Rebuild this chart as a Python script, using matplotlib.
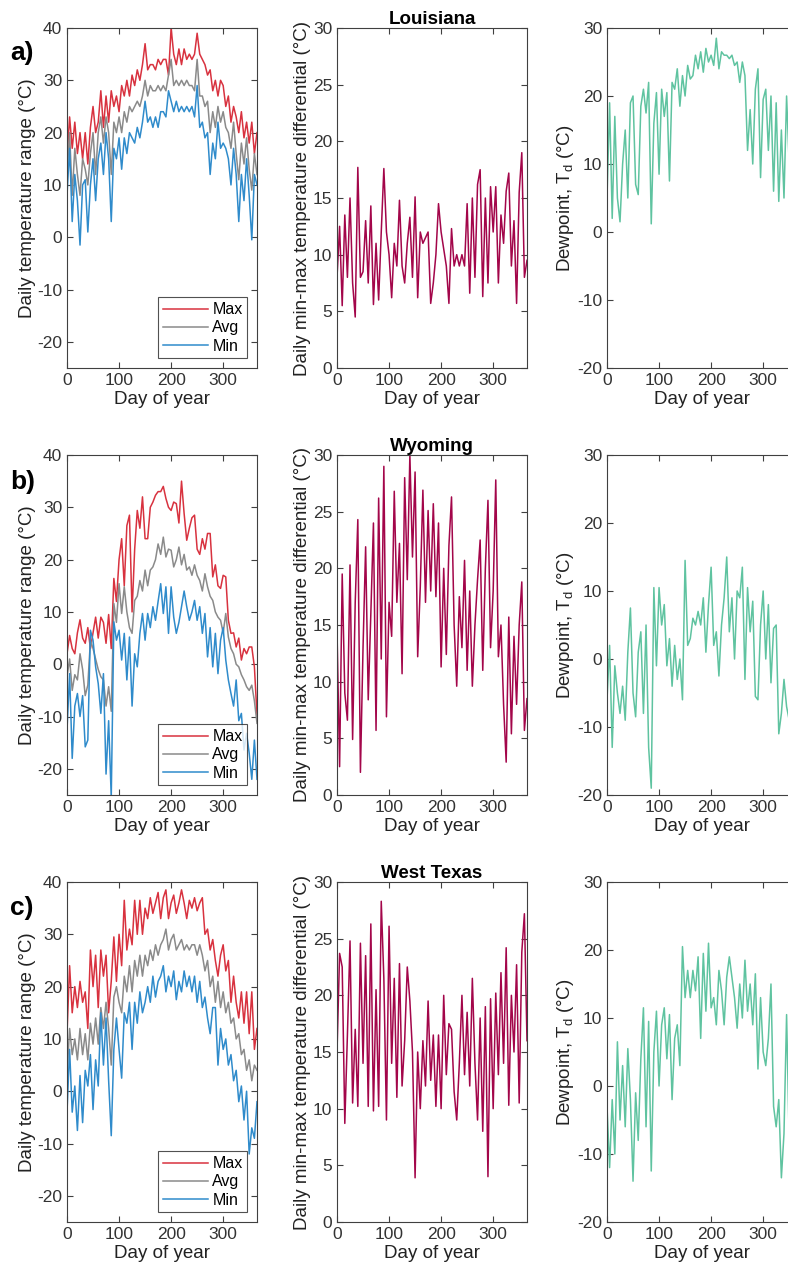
"""
    Daily temperature range, min-max differential and dewpoint for
    Louisiana, Wyoming and West Texas (values read every 5 days).
"""

import matplotlib
matplotlib.use("Agg")
import matplotlib.pyplot as plt

plt.rcParams['font.family'] = ['Liberation Sans', 'DejaVu Sans']
plt.rcParams['axes.unicode_minus'] = False
plt.rcParams['mathtext.default'] = 'regular'

DAYS = list(range(0, 366, 5))

# ---------------- Louisiana ----------------
LA_MAX = [15, 23, 17, 22, 16, 20, 15, 20, 14, 21,
          25, 20, 22, 28, 21, 27, 22, 28, 25, 27,
          24, 29, 27, 30, 27, 31, 29, 32, 30, 33,
          37, 32, 33, 33, 32, 34, 33, 34, 34, 31,
          40, 35, 33, 36, 33, 36, 34, 35, 34, 35,
          39, 35, 34, 33, 31, 32, 28, 30, 27, 30,
          29, 25, 27, 22, 25, 23, 20, 24, 19, 22,
          18, 22, 16, 20]
LA_AVG = [12, 20, 8, 17, 12, 8, 15, 13, 10, 16,
          20, 12, 20, 23, 18, 23, 20, 12, 22, 20,
          23, 20, 24, 22, 25, 24, 25, 26, 25, 27,
          30, 27, 29, 28, 28, 29, 28, 29, 28, 31,
          34, 29, 30, 29, 30, 29, 30, 29, 29, 28,
          34, 27, 27, 25, 26, 20, 24, 21, 25, 22,
          24, 21, 20, 17, 22, 16, 11, 18, 14, 19,
          13, 9, 16, 12]
LA_MIN = [8, 17, 3, 12, 7, -1.5, 10, 11, 1, 10,
          15, 7, 15, 18, 12, 20, 15, 3, 17, 15,
          19, 13, 19, 16, 20, 19, 18, 21, 19, 22,
          26, 22, 23, 21, 23, 21, 24, 24, 23, 28,
          26, 24, 26, 24, 25, 24, 25, 24, 25, 23,
          29, 21, 22, 19, 20, 12, 18, 15, 22, 17,
          18, 17, 15, 10, 17, 12, 3, 12, 7, 15,
          8, -0.5, 12, 10]
LA_DIFF = [8, 12.5, 5.5, 13.5, 8, 15, 7.5, 4.5, 17.7, 8,
           8.5, 13, 7.5, 14.3, 5.6, 11, 6, 12, 17.6, 12,
           10, 6.2, 11, 9, 14.8, 9, 7.5, 11, 13.3, 8,
           15.1, 6.2, 12, 11, 11.5, 12, 5.7, 7.5, 10, 14.5,
           12, 10.5, 9, 5.7, 12.3, 9, 10, 9, 10, 9,
           14.5, 6.6, 15, 8, 16.2, 17.5, 6.3, 15, 7.5, 16,
           12, 16, 7.5, 13.5, 11, 15.6, 17.2, 9, 13, 5.7,
           15.5, 19, 8, 9.5]
LA_DEW = [5, 19, 2, 17, 5, 1.5, 10, 15, 5, 19,
          20, 7, 5.5, 18.5, 21, 17.5, 22, 1.2, 16, 20.5,
          8.5, 21, 17, 20.5, 7.5, 22, 21, 24, 18.5, 23,
          20, 24.5, 22.5, 23, 26, 24, 26.5, 23.5, 27, 25,
          26, 24.5, 28.5, 24, 26.5, 26, 26, 25.5, 26, 24.5,
          25, 22, 25, 23, 12, 18, 10, 21, 24, 8,
          19.5, 21, 12, 20, 6, 19, 4.5, 15, 5, 20,
          10, 14, 8, 12]

# ---------------- Wyoming ----------------
WY_MAX = [2, 5.5, 3, 2, 6, 8.5, 5, 4, 7, 3,
          6, 9, 5, 9, 8, 4, 9.5, 3, 16.4, 12,
          20, 24, 15, 26.5, 28.5, 10, 22, 29.4, 26, 32,
          24, 24, 30, 31, 32.3, 33, 33, 34, 31.7, 30,
          29.4, 31, 30.7, 27, 35, 28.8, 23.7, 26, 28, 28.5,
          22, 21, 24, 22, 25, 25, 16.7, 19, 15, 14.5,
          17, 16.7, 8.4, 5.9, 6, 3.3, 5, 0.8, 3, 2,
          3.3, 3.3, -0.5, -9.7]
WY_AVG = [-2.4, 1, -5, -2, -3, 2, -1, -6, -4, 4.6,
          3, 1, -1, -2.4, -3, -8, -4.3, -9, 11.6, 8,
          15.4, 9.7, 14.8, 10, 7, 5.9, 12.2, 13, 16, 14,
          18, 15, 18, 18.6, 20, 23, 21, 24.3, 20.5, 22,
          21.8, 18.6, 20, 22.4, 19, 21, 18, 18.6, 17, 19,
          17, 16, 14, 17.3, 14.8, 13, 12.2, 10, 9, 8.4,
          6, 9.7, 5.2, 3, 2, 0, -0.5, -2, -3, -4.3,
          -5, -4, -7, -11.3]
WY_MIN = [-12.6, -1.8, -18, -8, -5.6, -10, -6, -15.8, -14.5, 6.5,
          4.6, -0.5, -3.7, -9.4, -1.8, -21, -10.8, -25.5, 8.1, 4.6,
          6.5, 0.8, 5.9, -3, 5.2, -8, 2, -0.5, 5.9, 9.7,
          4.6, 9.7, 7, 11, 8.4, 12, 15.4, 9.7, 14.8, 5.9,
          14.8, 9, 5.9, 8, 11, 14, 11, 8.4, 10, 12.2,
          8.4, 11, 5.9, 9.7, 1.4, 7, -0.5, 5.9, -1.8, 4.6,
          7, 0.8, -3, -5.6, -8, -3, -10.8, -9.4, -16.4, -13.2,
          -17, -22, -14.5, -22]
WY_DIFF = [14.5, 2.5, 19.5, 9, 6.6, 20.3, 4.9, 17, 24.3, 2,
           13, 21.9, 8.4, 16, 24, 5.7, 26.2, 12, 29, 6.9,
           17, 14, 26.8, 17, 22.2, 10.7, 28, 19, 30, 21,
           28.5, 12.2, 18.4, 26.9, 17, 25.1, 18, 25.7, 17.5, 24,
           11.3, 20, 12.4, 22, 26.3, 15, 9.6, 17.5, 13, 20.7,
           11, 18, 9.6, 15, 19, 22.5, 11, 20, 26, 13,
           18, 27.8, 12.2, 15, 8, 2.9, 15.7, 5.4, 14, 8,
           15, 18.8, 5.7, 8.5]
WY_DEW = [-6, 2, -13, -1, -5, -8, -4, -9, 1, 7.5,
          -5, -8.5, 1, 4, -8, 5, -13, -19, 10.5, -1,
          10.5, 5, 8, -1, 3, -4, 2, -3, 0, -6,
          14.5, 2, 3, 6, 5, 7, 5, 9, 1, 8,
          13.5, 2, 4, -2.5, 5, 9, 15, 4, 9, 0,
          10, 9, 13.5, -3, 10.5, 4, 8.5, -5.5, -6, 5,
          10, 0, 8, -3.5, 4.5, 5, -11, -8, -3, -7,
          -9, -6, -10, -8]

# ---------------- West Texas ----------------
TX_MAX = [11, 24, 15, 20, 16, 21, 17, 19, 12, 27,
          20, 26, 16, 27, 22, 26, 15, 21, 29.5, 21,
          30, 24, 36.5, 27, 31, 28, 36.5, 30, 36.5, 30,
          35, 33, 37, 34, 36, 38, 33, 37, 38.5, 33,
          36, 37.5, 34, 36, 38.5, 36, 33, 36.5, 35, 37,
          34.5, 36, 37, 30, 31, 27, 29, 25, 22, 26,
          28, 23, 25, 17, 22, 17, 14, 19, 13, 19,
          11, 19, 8, 12]
TX_AVG = [3, 12, 7, 10, 6, 12, 7, 11, 6, 13,
          9, 14, 9, 16, 12, 17, 12, 5, 18, 20,
          17, 15, 22, 19, 24, 19, 25, 22, 26, 22,
          26, 24, 27, 25, 28, 26, 28, 29, 31, 27,
          29, 30, 27, 28, 29, 27, 28, 27, 28, 28,
          26, 28, 26, 23, 25, 20, 22, 17, 21, 16,
          19, 15, 17, 13, 14, 10, 11, 7, 8, 4,
          6, 2, 5, 4]
TX_MIN = [-4, 8, -4, 1, -7.5, 3, -6, 4, 1, 7,
          -3.5, 6, 1, 15, 5, 14, 2, -8.5, 8, 14,
          8, 2.5, 15, 13, 17, 8, 17, 13, 19, 15,
          17, 20, 17, 22, 18, 21, 22, 24, 19, 22,
          20, 23, 17.5, 21, 19, 23, 20, 22, 19, 22,
          17, 21, 16, 18, 14, 11, 16, 16, 5, 12,
          8, 10, 5, 7, 2, 4, -2, 1, -5.5, 0,
          -12, -7, -9, -2]
TX_DIFF = [15, 23.7, 22.5, 8.7, 16.5, 24.8, 10.5, 17, 10.2, 24.6,
           14, 23.5, 10.2, 26.3, 9.8, 20.5, 10.2, 28.3, 21.5, 9,
           26.1, 14, 21.5, 11, 22.8, 12, 16, 22.5, 19.5, 15,
           3.9, 15, 10, 16, 12, 19.5, 12.5, 16.5, 10.2, 16.5,
           10, 20, 13, 17.5, 17, 11.5, 9, 14, 20, 13,
           18.5, 12, 21.5, 14, 9, 18, 8, 19, 4, 19.7,
           10, 20.2, 13, 22, 14, 24.2, 10.3, 20, 15, 22.7,
           10.5, 23.8, 27.2, 16]
TX_DEW = [-3, -12, -2, -10, 6.5, -5, 3, -6, 5.5, -2,
          -14, -1, -8, 4, 11.5, -6, 9.5, -12.5, 5, 11,
          0, 9, 11.5, 4, 10.5, -2, 7, 9, 3, 20.5,
          13, 17, 13, 17, 14, 19, 7, 19.5, 11, 21,
          11.5, 13, 9, 17, 14, 9, 16, 19, 16, 13,
          8.5, 15, 10, 18.5, 11, 15, 9, 16.5, 2.5, 13,
          5, 3, 7, 15, -3, -6, -2, -13.5, -7, 10.5,
          -8, -5, -10, -6]

STATES = ["Louisiana", "Wyoming", "West Texas"]
PANEL_LABELS = ["a)", "b)", "c)"]

MAX_COLOR = "#d8323f"
AVG_COLOR = "#8a8a8a"
MIN_COLOR = "#2f8bcb"
DIFF_COLOR = "#a3064a"
DEW_COLOR = "#5fc3a0"
AXIS_COLOR = "#404040"
LABEL_SIZE = 13.5


def style_axes(ax, ylim, yticks):
    """
    Gives an axes the boxed, inward-tick look.

    Parameters
    ----------
    ax : the axes
    ylim : tuple of y limits
    yticks : list of y tick positions

    Returns
    -------
    None.

    """
    ax.set_xlim(0, 365)
    ax.set_ylim(*ylim)
    ax.set_xticks([0, 100, 200, 300])
    ax.set_yticks(yticks)
    ax.tick_params(direction="in", top=True, right=True, length=4,
                   width=0.8, colors=AXIS_COLOR, labelsize=12.5,
                   labelcolor="#333333")
    for sp in ax.spines.values():
        sp.set_color(AXIS_COLOR)
        sp.set_linewidth(0.8)
    ax.set_xlabel("Day of year", fontsize=LABEL_SIZE, color="#222222",
                  labelpad=2)


def plot_temps(ax, tmax, tavg, tmin):
    """
    Plots the daily max, average and min temperatures.
    """
    ax.plot(DAYS, tmax, color=MAX_COLOR, lw=1.1, label="Max")
    ax.plot(DAYS, tavg, color=AVG_COLOR, lw=1.1, label="Avg")
    ax.plot(DAYS, tmin, color=MIN_COLOR, lw=1.1, label="Min")
    style_axes(ax, (-25, 40), [-20, -10, 0, 10, 20, 30, 40])
    ax.set_ylabel("Daily temperature range (°C)", fontsize=LABEL_SIZE,
                  color="#222222", labelpad=1)
    leg = ax.legend(loc="lower right", fontsize=11.5, frameon=True,
                    fancybox=False, handlelength=2.8, handletextpad=0.3,
                    borderpad=0.3, labelspacing=0.2, borderaxespad=0.6)
    leg.get_frame().set_edgecolor("#262626")
    leg.get_frame().set_linewidth(0.8)


def plot_diff(ax, diff, state):
    """
    Plots the daily min-max temperature differential.
    """
    ax.plot(DAYS, diff, color=DIFF_COLOR, lw=1.1)
    style_axes(ax, (0, 30), [0, 5, 10, 15, 20, 25, 30])
    ax.set_ylabel("Daily min-max temperature differential (°C)",
                  fontsize=LABEL_SIZE, color="#222222", labelpad=1)
    ax.set_title(state, fontsize=LABEL_SIZE, fontweight="bold", pad=3)


def plot_dew(ax, dew):
    """
    Plots the daily dewpoint.
    """
    ax.plot(DAYS, dew, color=DEW_COLOR, lw=1.1)
    style_axes(ax, (-20, 30), [-20, -10, 0, 10, 20, 30])
    ax.set_ylabel("Dewpoint, T$_d$ (°C)", fontsize=LABEL_SIZE,
                  color="#222222", labelpad=1)


def main():
    W, H = 788, 1276
    fig = plt.figure(figsize=(W / 100, H / 100), dpi=100)

    temps = [(LA_MAX, LA_AVG, LA_MIN), (WY_MAX, WY_AVG, WY_MIN),
             (TX_MAX, TX_AVG, TX_MIN)]
    diffs = [LA_DIFF, WY_DIFF, TX_DIFF]
    dews = [LA_DEW, WY_DEW, TX_DEW]

    lefts = [67, 337, 607]
    tops = [28, 455, 882]
    aw, ah = 190, 340
    label_y = [53, 482, 908]

    for r in range(3):
        bottom = 1 - (tops[r] + ah) / H
        axs = [fig.add_axes([l / W, bottom, aw / W, ah / H]) for l in lefts]
        plot_temps(axs[0], *temps[r])
        plot_diff(axs[1], diffs[r], STATES[r])
        plot_dew(axs[2], dews[r])
        fig.text(10 / W, 1 - label_y[r] / H, PANEL_LABELS[r], fontsize=19,
                 fontweight="bold", va="center", ha="left")

    fig.savefig("out.png", dpi=100)


main()
